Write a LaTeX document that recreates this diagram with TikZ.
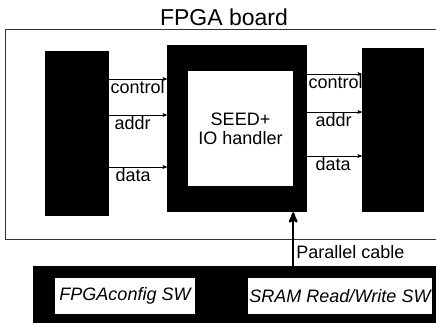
\documentclass[tikz,border=0pt]{standalone}
\usepackage{fontspec}
\setmainfont{Liberation Sans}
\usepackage{tikz}
\usetikzlibrary{arrows}

\begin{document}
\begin{tikzpicture}[x=1pt,y=-1pt,>=stealth',
  blk/.style={fill=black,draw=none,inner sep=0pt},
  sw/.style={fill=white,draw=none,inner sep=0pt,font=\itshape},
  lbl/.style={anchor=north west,inner sep=1pt},
  sig/.style={->,line width=0.6pt},
  cable/.style={->,line width=2.4pt}]
\useasboundingbox (0,0) rectangle (436,322);
\fontsize{18}{19}\selectfont

\node (X) at (224,17) {\fontsize{23}{25}\selectfont FPGA board};
\draw[line width=0.6pt,black!80] (5,29) rectangle (445,239);

  \node[blk, minimum width=64pt, minimum height=165pt] (L) at (77,133.5) {};
  \node[blk, minimum width=140pt, minimum height=167pt] (S) at (237,128.5) {};
  \node[fill=white, inner sep=0pt, minimum width=105pt, minimum height=115pt,
        align=center] (H) at (240.5,128.5) {SEED+\\IO handler};
  \node[blk, minimum width=62pt, minimum height=164pt] (R) at (393,130) {};

  \node[blk, minimum width=407pt, minimum height=59pt] (P) at (236.5,295.5) {};
  \node[sw, minimum width=140pt, minimum height=36pt] (F) at (125,296) {FPGAconfig SW};
  \node[sw, minimum width=184pt, minimum height=36pt] (W) at (340,296) {SRAM Read/Write SW};

  \coordinate (c1) at (0,79);
  \coordinate (a1) at (0,115);
  \coordinate (d1) at (0,167);
  \coordinate (c2) at (0,74);
  \coordinate (a2) at (0,112);
  \coordinate (d2) at (0,156);

  \path[sig]
        (L.east |- c1) edge node[lbl,pos=0] {control} (S.west |- c1)
        (L.east |- a1) edge node[lbl,pos=0,xshift=4pt] {addr} (S.west |- a1)
        (L.east |- d1) edge node[lbl,pos=0,xshift=5pt] {data} (S.west |- d1)
        (S.east |- c2) edge node[lbl,pos=0] {control} (R.west |- c2)
        (S.east |- a2) edge node[lbl,pos=0,xshift=7pt] {addr} (R.west |- a2)
        (S.east |- d2) edge node[lbl,pos=0,xshift=7pt] {data} (R.west |- d2);

  \draw[cable] (P.north -| H.east) -- node[pos=0.25,right,inner sep=2pt] {Parallel cable} (S.south -| H.east);
\end{tikzpicture}
\end{document}
